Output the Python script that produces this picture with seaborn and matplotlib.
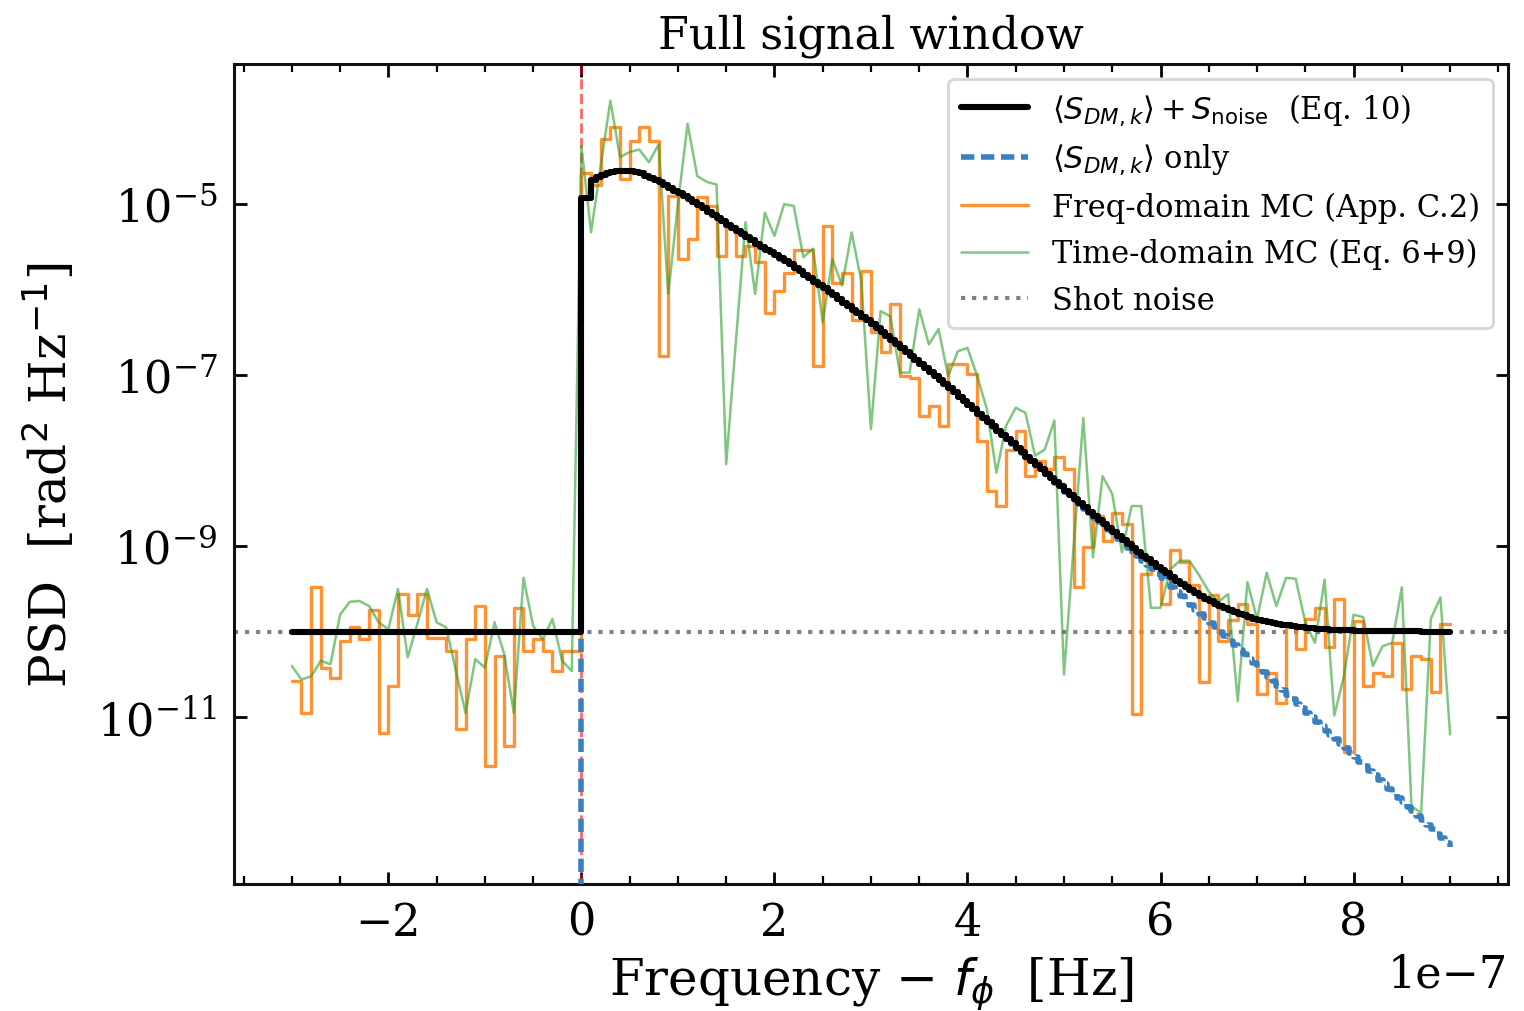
import numpy as np
import pandas as pd
import matplotlib
matplotlib.use("Agg")
import matplotlib.pyplot as plt
import seaborn as sns
from matplotlib.ticker import AutoMinorLocator, NullLocator

# frequency grids, in units of 1e-7 Hz (offset from f_phi)
mc_freq = np.round(np.arange(-30, 91) * 0.1, 2)        # MC bins, -3 .. 9
model_freq = np.round(np.arange(-60, 181) * 0.05, 2)   # model bins, -3 .. 9

noise_level = 1e-10

# log10 PSD, freq-domain MC (steps), one value per MC bin
freq_mc_log = [
    -10.58, -10.95, -9.48, -10.42, -10.54, -10.11, -9.95, -10.08, -9.74, -11.18,
    -10.63, -9.56, -9.80, -9.56, -10.07, -10.07, -10.22, -11.14, -10.08, -9.70,
    -11.57, -10.28, -11.34, -9.72, -10.22, -10.08, -10.22, -10.46, -10.22, -10.22,
    -4.63, -4.77, -4.24, -4.10, -4.71, -4.26, -4.10, -4.26, -6.77, -4.90,
    -5.64, -5.41, -4.92, -5.02, -5.60, -5.25, -5.60, -5.49, -5.68, -6.27,
    -6.01, -5.80, -5.53, -5.53, -6.89, -5.25, -5.92, -5.80, -6.35, -5.78,
    -6.50, -6.73, -6.17, -7.01, -7.03, -7.48, -7.36, -7.59, -6.87, -6.87,
    -6.99, -7.77, -8.35, -8.53, -7.87, -7.65, -8.18, -8.00, -8.10, -7.96,
    -8.10, -9.48, -9.01, -8.65, -8.94, -8.61, -8.74, -10.96, -9.33, -9.23,
    -9.68, -9.04, -9.19, -9.45, -10.59, -9.57, -10.11, -9.86, -9.68, -9.91,
    -10.73, -10.48, -10.83, -9.95, -10.20, -9.85, -9.72, -10.18, -9.62, -11.41,
    -9.87, -10.63, -10.48, -10.52, -10.13, -10.67, -10.28, -10.32, -10.71, -9.91,
    -9.91,
]

# log10 PSD, time-domain MC (line), one value per MC bin
time_mc_log = [
    -10.40, -10.56, -10.52, -10.34, -10.38, -9.80, -9.65, -9.64, -9.70, -9.89,
    -9.97, -9.50, -10.30, -9.91, -9.50, -9.89, -9.95, -10.46, -10.95, -10.32,
    -10.42, -9.89, -10.26, -10.95, -9.37, -9.93, -10.09, -9.85, -10.34, -10.46,
    -4.32, -5.33, -4.55, -3.79, -4.45, -4.39, -4.36, -4.51, -4.30, -6.05,
    -5.00, -4.06, -4.67, -4.74, -4.77, -8.04, -6.61, -5.21, -6.05, -5.10,
    -5.37, -5.00, -5.02, -5.62, -5.52, -6.38, -5.64, -5.95, -5.33, -5.90,
    -7.63, -6.25, -6.31, -6.97, -6.97, -6.23, -6.64, -6.46, -7.01, -6.72,
    -6.68, -7.01, -7.39, -8.14, -7.59, -7.38, -7.44, -7.94, -7.87, -7.53,
    -10.50, -9.00, -7.50, -9.13, -8.18, -8.39, -9.07, -8.53, -8.53, -9.72,
    -9.72, -9.27, -9.17, -9.17, -9.34, -9.53, -9.65, -9.56, -10.81, -9.42,
    -9.85, -9.31, -9.70, -9.37, -9.38, -9.89, -10.13, -9.39, -10.98, -10.52,
    -9.80, -9.83, -10.40, -10.17, -10.13, -9.48, -12.04, -12.12, -9.85, -9.60,
    -11.20,
]

# log10 <S_DM,k>, model bins from 0 to 9 (zero below 0)
dm_log = [
    -4.93, -4.93, -4.72, -4.68, -4.655, -4.635, -4.62, -4.61, -4.61, -4.61,
    -4.615, -4.625, -4.64, -4.665, -4.69, -4.715, -4.745, -4.775, -4.805, -4.84,
    -4.87, -4.905, -4.94, -4.975, -5.015, -5.05, -5.09, -5.13, -5.165, -5.20,
    -5.24, -5.275, -5.31, -5.35, -5.385, -5.42, -5.46, -5.495, -5.53, -5.56,
    -5.595, -5.635, -5.67, -5.705, -5.745, -5.785, -5.825, -5.865, -5.905, -5.945,
    -5.985, -6.025, -6.065, -6.105, -6.15, -6.19, -6.235, -6.275, -6.32, -6.36,
    -6.405, -6.45, -6.495, -6.54, -6.585, -6.63, -6.68, -6.725, -6.77, -6.82,
    -6.865, -6.915, -6.96, -7.01, -7.055, -7.105, -7.155, -7.20, -7.25, -7.30,
    -7.35, -7.40, -7.45, -7.50, -7.55, -7.60, -7.65, -7.70, -7.75, -7.80,
    -7.85, -7.905, -7.955, -8.005, -8.055, -8.105, -8.16, -8.21, -8.26, -8.31,
    -8.36, -8.41, -8.46, -8.51, -8.56, -8.615, -8.665, -8.715, -8.765, -8.815,
    -8.865, -8.92, -8.97, -9.02, -9.07, -9.12, -9.17, -9.22, -9.27, -9.32,
    -9.37, -9.42, -9.475, -9.53, -9.58, -9.63, -9.685, -9.74, -9.79, -9.84,
    -9.895, -9.95, -10.0, -10.05, -10.105, -10.16, -10.21, -10.26, -10.315, -10.37,
    -10.42, -10.47, -10.525, -10.58, -10.63, -10.68, -10.735, -10.79, -10.84, -10.89,
    -10.945, -11.0, -11.05, -11.10, -11.155, -11.21, -11.26, -11.31, -11.365, -11.42,
    -11.47, -11.52, -11.575, -11.63, -11.68, -11.73, -11.785, -11.84, -11.89, -11.94,
    -11.995, -12.05, -12.10, -12.15, -12.205, -12.26, -12.31, -12.36, -12.415, -12.47,
    -12.52,
]
dm_below_zero = [0.0] * 60

# tables for seaborn
dm = np.concatenate([dm_below_zero, 10.0 ** np.array(dm_log)])
model = pd.DataFrame({
    "freq": model_freq * 1e-7,
    "dm": dm,
    "total": dm + noise_level,
})
mc = pd.DataFrame({
    "freq": mc_freq * 1e-7,
    "fd": 10.0 ** np.array(freq_mc_log),
    "td": 10.0 ** np.array(time_mc_log),
})

sns.set_style("ticks")
plt.rcParams["font.family"] = ["DejaVu Serif"]
plt.rcParams["axes.linewidth"] = 1.1
plt.rcParams["axes.edgecolor"] = "#111111"
plt.rcParams["text.color"] = "black"
plt.rcParams["axes.labelcolor"] = "black"
plt.rcParams["xtick.color"] = "black"
plt.rcParams["ytick.color"] = "black"
plt.rcParams["xtick.labelsize"] = 16
plt.rcParams["ytick.labelsize"] = 16

fig, ax = plt.subplots(figsize=(7.62, 5.06), dpi=200)
fig.subplots_adjust(left=0.1535, right=0.9895, bottom=0.1255, top=0.9358)

sns.lineplot(data=model, x="freq", y="total", ax=ax, color="black", lw=2.2,
             drawstyle="steps-post", zorder=5, errorbar=None,
             label=r"$\langle S_{DM,k}\rangle + S_{\mathrm{noise}}$  (Eq. 10)")
sns.lineplot(data=model, x="freq", y="dm", ax=ax, color="#3a80bf", lw=2.0,
             linestyle=(0, (2.4, 1.2)), drawstyle="steps-post", zorder=4,
             errorbar=None, label=r"$\langle S_{DM,k}\rangle$ only")
sns.lineplot(data=mc, x="freq", y="fd", ax=ax, color="#ff7f0e", lw=1.2,
             alpha=0.85, drawstyle="steps-post", zorder=2, errorbar=None,
             label="Freq-domain MC (App. C.2)")
sns.lineplot(data=mc, x="freq", y="td", ax=ax, color="#2ca02c", lw=0.9,
             alpha=0.6, zorder=3, errorbar=None,
             label="Time-domain MC (Eq. 6+9)")
ax.axhline(noise_level, color="gray", ls=":", lw=1.5, zorder=1, label="Shot noise")
ax.axvline(0, color="red", ls="--", lw=1.0, alpha=0.6, zorder=1)

ax.set_yscale("log")
ax.set_xlim(-3.6e-7, 9.6e-7)
ax.set_ylim(10 ** -12.95, 10 ** -3.36)
ax.set_yticks([1e-11, 1e-9, 1e-7, 1e-5])
ax.yaxis.set_minor_locator(NullLocator())
ax.xaxis.set_minor_locator(AutoMinorLocator(4))
ax.tick_params(which="both", direction="in", top=True, right=True)
ax.tick_params(which="major", length=4.5, width=1.0, pad=6)
ax.tick_params(which="minor", length=3, width=0.8)

ax.set_title("Full signal window", fontsize=16)
ax.set_xlabel(r"Frequency $-$ $f_\phi$  [Hz]", fontsize=18)
ax.set_ylabel(r"PSD  [rad$^2$ Hz$^{-1}$]", fontsize=18, labelpad=7)
ax.legend(loc="upper right", fontsize=11, handlelength=2.2)

fig.savefig("out.png", dpi=200)
